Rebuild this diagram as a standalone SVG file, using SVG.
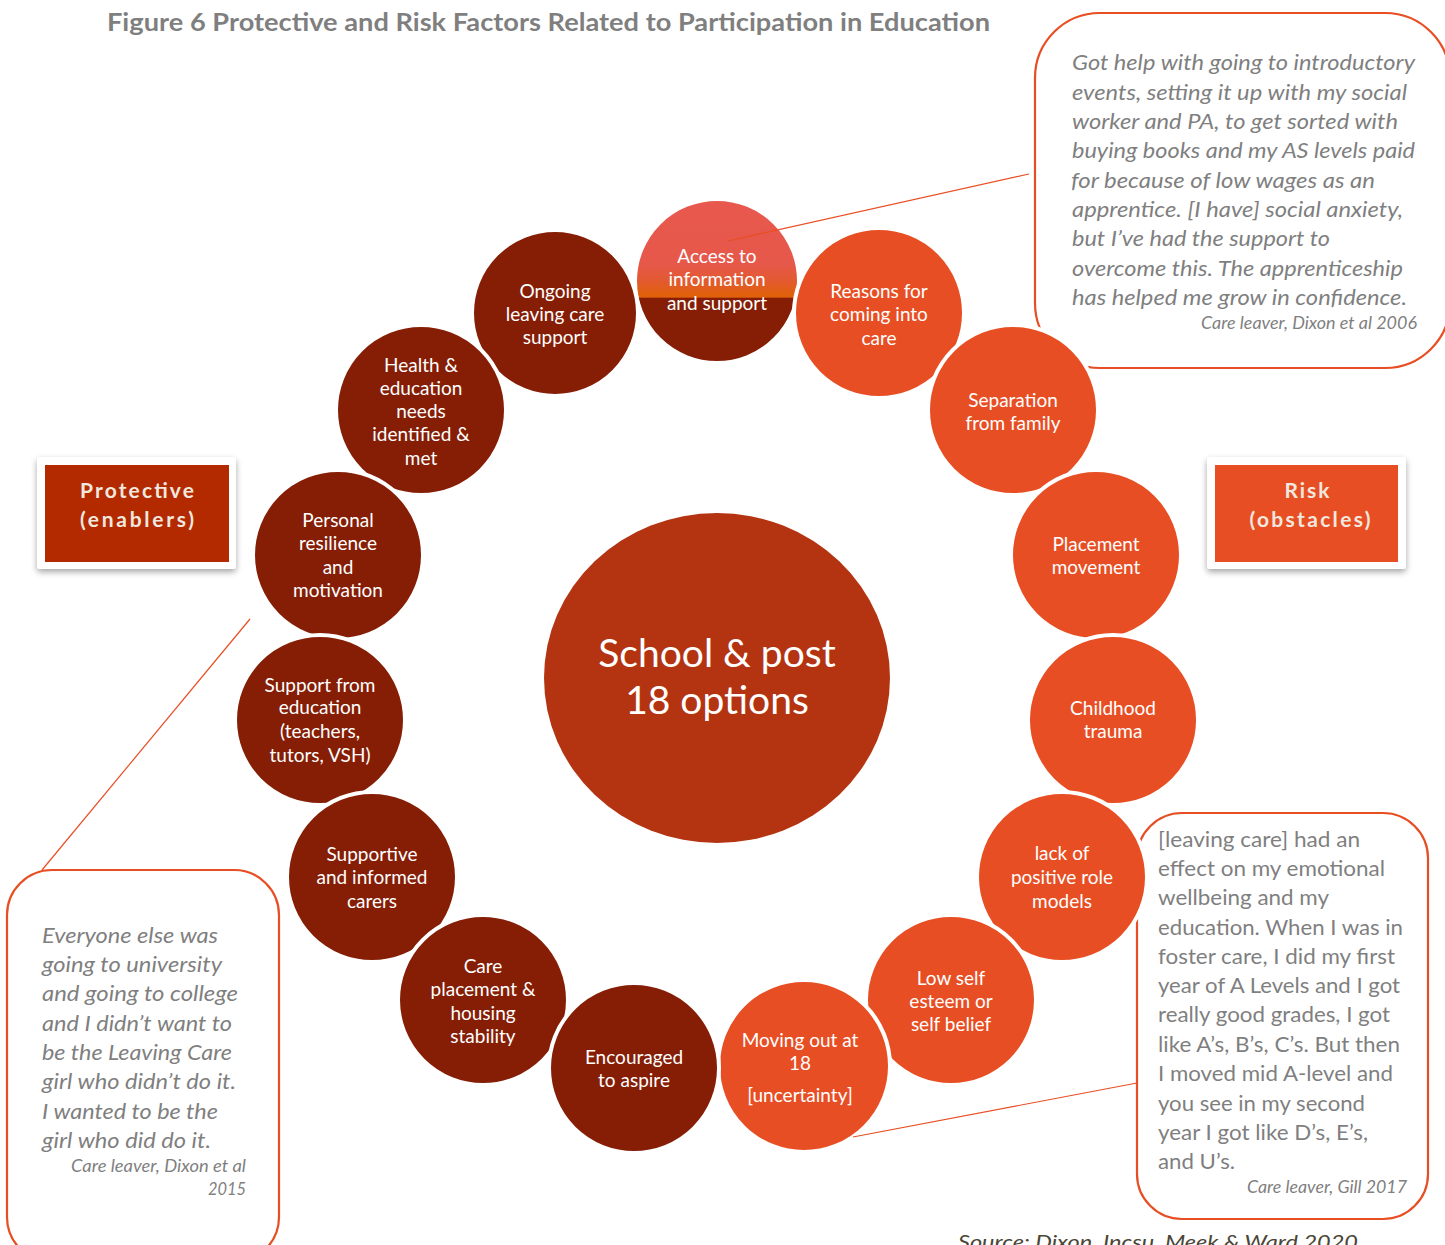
<svg xmlns="http://www.w3.org/2000/svg" width="1445" height="1245" viewBox="0 0 1445 1245">
<style>
  text { font-family: "Lato", "Liberation Sans", sans-serif; }
  .title { font-size: 25px; font-weight: bold; fill: #7F7F7F; }
  .prot { fill: #851E05; stroke: #FFFFFF; stroke-width: 4; }
  .risk { fill: #E84E23; stroke: #FFFFFF; stroke-width: 4; }
  .ct { font-size: 19px; fill: #FFFFFF; text-anchor: middle; }
  .big { font-size: 39px; fill: #FFFFFF; text-anchor: middle; }
  .callout { fill: #FFFFFF; stroke: #E84E23; stroke-width: 2.2; }
  .q { font-size: 21px; font-style: italic; fill: #7F7F7F; }
  .qn { font-size: 21px; fill: #7F7F7F; }
  .att { font-size: 17px; font-style: italic; fill: #7F7F7F; }
  .lbl { font-size: 21px; font-weight: bold; fill: #F0E8DE; text-anchor: middle; }
  .conn { stroke: #E84E23; stroke-width: 1.2; fill: none; }
  .src { font-size: 20px; font-style: italic; fill: #4A4535; }
</style>
<defs>
  <linearGradient id="accessGrad" x1="0" y1="0" x2="0" y2="1">
    <stop offset="0" stop-color="#E8584E"/>
    <stop offset="0.4" stop-color="#E6584A"/>
    <stop offset="0.5" stop-color="#E35A30"/>
    <stop offset="0.58" stop-color="#E0600C"/>
    <stop offset="0.6" stop-color="#E0600C"/>
    <stop offset="0.602" stop-color="#851E05"/>
    <stop offset="1" stop-color="#851E05"/>
  </linearGradient>
  <filter id="shadow" x="-10%" y="-10%" width="120%" height="130%">
    <feDropShadow dx="0" dy="3" stdDeviation="3" flood-color="#000000" flood-opacity="0.35"/>
  </filter>
</defs>

<rect x="0" y="0" width="1445" height="1245" fill="#FFFFFF"/>

<text class="title" x="107" y="31" textLength="883" lengthAdjust="spacingAndGlyphs">Figure 6 Protective and Risk Factors Related to Participation in Education</text>

<!-- Callouts -->
<g id="quote-top-right">
  <rect class="callout" x="1035" y="13" width="415" height="355" rx="65"/>
  <text class="q" x="1072" y="70" textLength="343" lengthAdjust="spacingAndGlyphs">Got help with going to introductory</text>
  <text class="q" x="1072" y="100" textLength="335" lengthAdjust="spacingAndGlyphs">events, setting it up with my social</text>
  <text class="q" x="1072" y="129" textLength="326" lengthAdjust="spacingAndGlyphs">worker and PA, to get sorted with</text>
  <text class="q" x="1072" y="158" textLength="343" lengthAdjust="spacingAndGlyphs">buying books and my AS levels paid</text>
  <text class="q" x="1071" y="188" textLength="304" lengthAdjust="spacingAndGlyphs">for because of low wages as an</text>
  <text class="q" x="1072" y="217" textLength="331" lengthAdjust="spacingAndGlyphs">apprentice. [I have] social anxiety,</text>
  <text class="q" x="1072" y="246" textLength="258" lengthAdjust="spacingAndGlyphs">but I’ve had the support to</text>
  <text class="q" x="1072" y="276" textLength="331" lengthAdjust="spacingAndGlyphs">overcome this. The apprenticeship</text>
  <text class="q" x="1072" y="305" textLength="335" lengthAdjust="spacingAndGlyphs">has helped me grow in confidence.</text>
  <text class="att" x="1201" y="329" textLength="216" lengthAdjust="spacingAndGlyphs">Care leaver, Dixon et al 2006</text>
</g>

<g id="quote-bottom-left">
  <rect class="callout" x="7" y="870" width="272" height="392" rx="45"/>
  <text class="q" x="42" y="943" textLength="176" lengthAdjust="spacingAndGlyphs">Everyone else was</text>
  <text class="q" x="42" y="972" textLength="180" lengthAdjust="spacingAndGlyphs">going to university</text>
  <text class="q" x="42" y="1001" textLength="196" lengthAdjust="spacingAndGlyphs">and going to college</text>
  <text class="q" x="42" y="1031" textLength="190" lengthAdjust="spacingAndGlyphs">and I didn’t want to</text>
  <text class="q" x="42" y="1060" textLength="190" lengthAdjust="spacingAndGlyphs">be the Leaving Care</text>
  <text class="q" x="42" y="1089" textLength="194" lengthAdjust="spacingAndGlyphs">girl who didn’t do it.</text>
  <text class="q" x="42" y="1119" textLength="176" lengthAdjust="spacingAndGlyphs">I wanted to be the</text>
  <text class="q" x="42" y="1148" textLength="169" lengthAdjust="spacingAndGlyphs">girl who did do it.</text>
  <text class="att" x="71" y="1172" textLength="175" lengthAdjust="spacingAndGlyphs">Care leaver, Dixon et al</text>
  <text class="att" x="208" y="1195" textLength="38" lengthAdjust="spacingAndGlyphs">2015</text>
</g>

<g id="quote-bottom-right">
  <rect class="callout" x="1137" y="813" width="291" height="406" rx="45"/>
  <text class="qn" x="1158" y="847" textLength="202" lengthAdjust="spacingAndGlyphs">[leaving care] had an</text>
  <text class="qn" x="1158" y="876" textLength="227" lengthAdjust="spacingAndGlyphs">effect on my emotional</text>
  <text class="qn" x="1158" y="905" textLength="171" lengthAdjust="spacingAndGlyphs">wellbeing and my</text>
  <text class="qn" x="1158" y="935" textLength="245" lengthAdjust="spacingAndGlyphs">education. When I was in</text>
  <text class="qn" x="1158" y="964" textLength="237" lengthAdjust="spacingAndGlyphs">foster care, I did my first</text>
  <text class="qn" x="1158" y="993" textLength="242" lengthAdjust="spacingAndGlyphs">year of A Levels and I got</text>
  <text class="qn" x="1158" y="1022" textLength="232" lengthAdjust="spacingAndGlyphs">really good grades, I got</text>
  <text class="qn" x="1158" y="1052" textLength="242" lengthAdjust="spacingAndGlyphs">like A’s, B’s, C’s. But then</text>
  <text class="qn" x="1158" y="1081" textLength="235" lengthAdjust="spacingAndGlyphs">I moved mid A-level and</text>
  <text class="qn" x="1158" y="1111" textLength="207" lengthAdjust="spacingAndGlyphs">you see in my second</text>
  <text class="qn" x="1158" y="1140" textLength="210" lengthAdjust="spacingAndGlyphs">year I got like D’s, E’s,</text>
  <text class="qn" x="1158" y="1169" textLength="77" lengthAdjust="spacingAndGlyphs">and U’s.</text>
  <text class="att" x="1247" y="1193" textLength="160" lengthAdjust="spacingAndGlyphs">Care leaver, Gill 2017</text>
</g>

<!-- Label boxes -->
<g id="label-protective">
  <rect x="37" y="457" width="199" height="112" rx="3" fill="#FFFFFF" filter="url(#shadow)"/>
  <rect x="45" y="465" width="184" height="97" fill="#B32A00"/>
  <text class="lbl" x="137" y="498" textLength="114" lengthAdjust="spacing">Protective</text>
  <text class="lbl" x="137" y="527" textLength="114" lengthAdjust="spacing">(enablers)</text>
</g>
<g id="label-risk">
  <rect x="1207" y="457" width="199" height="112" rx="3" fill="#FFFFFF" filter="url(#shadow)"/>
  <rect x="1215" y="465" width="183" height="97" fill="#E84E23"/>
  <text class="lbl" x="1307" y="498" textLength="45" lengthAdjust="spacing">Risk</text>
  <text class="lbl" x="1310" y="527" textLength="121" lengthAdjust="spacing">(obstacles)</text>
</g>

<!-- Centre -->
<g id="centre">
  <ellipse cx="717" cy="678" rx="173" ry="165" fill="#B43412"/>
  <text class="big" x="717" y="667">School &amp; post</text>
  <text class="big" x="717" y="714">18 options</text>
</g>

<!-- Nodes -->
<g id="node-access">
  <circle cx="717" cy="281" r="82" fill="url(#accessGrad)" stroke="#FFFFFF" stroke-width="4"/>
  <text class="ct" x="717" y="263">Access to</text>
  <text class="ct" x="717" y="286">information</text>
  <text class="ct" x="717" y="310">and support</text>
</g>
<g id="node-reasons">
  <circle class="risk" cx="879" cy="313" r="85"/>
  <text class="ct" x="879" y="298">Reasons for</text>
  <text class="ct" x="879" y="321">coming into</text>
  <text class="ct" x="879" y="345">care</text>
</g>
<g id="node-separation">
  <circle class="risk" cx="1013" cy="410" r="85"/>
  <text class="ct" x="1013" y="407">Separation</text>
  <text class="ct" x="1013" y="430">from family</text>
</g>
<g id="node-placement">
  <circle class="risk" cx="1096" cy="555" r="85"/>
  <text class="ct" x="1096" y="551">Placement</text>
  <text class="ct" x="1096" y="574">movement</text>
</g>
<g id="node-trauma">
  <circle class="risk" cx="1113" cy="720" r="85"/>
  <text class="ct" x="1113" y="715">Childhood</text>
  <text class="ct" x="1113" y="738">trauma</text>
</g>
<g id="node-rolemodels">
  <circle class="risk" cx="1062" cy="877" r="85"/>
  <text class="ct" x="1062" y="860">lack of</text>
  <text class="ct" x="1062" y="884">positive role</text>
  <text class="ct" x="1062" y="908">models</text>
</g>
<g id="node-esteem">
  <circle class="risk" cx="951" cy="1000" r="85"/>
  <text class="ct" x="951" y="985">Low self</text>
  <text class="ct" x="951" y="1008">esteem or</text>
  <text class="ct" x="951" y="1031">self belief</text>
</g>
<g id="node-movingout">
  <circle class="risk" cx="804" cy="1066" r="86"/>
  <text class="ct" x="800" y="1047">Moving out at</text>
  <text class="ct" x="800" y="1070">18</text>
  <text class="ct" x="800" y="1102">[uncertainty]</text>
</g>
<g id="node-ongoing">
  <circle class="prot" cx="555" cy="313" r="83"/>
  <text class="ct" x="555" y="298">Ongoing</text>
  <text class="ct" x="555" y="321">leaving care</text>
  <text class="ct" x="555" y="344">support</text>
</g>
<g id="node-health">
  <circle class="prot" cx="421" cy="410" r="85"/>
  <text class="ct" x="421" y="372">Health &amp;</text>
  <text class="ct" x="421" y="395">education</text>
  <text class="ct" x="421" y="418">needs</text>
  <text class="ct" x="421" y="441">identified &amp;</text>
  <text class="ct" x="421" y="465">met</text>
</g>
<g id="node-resilience">
  <circle class="prot" cx="338" cy="555" r="85"/>
  <text class="ct" x="338" y="527">Personal</text>
  <text class="ct" x="338" y="550">resilience</text>
  <text class="ct" x="338" y="574">and</text>
  <text class="ct" x="338" y="597">motivation</text>
</g>
<g id="node-education">
  <circle class="prot" cx="320" cy="720" r="85"/>
  <text class="ct" x="320" y="692">Support from</text>
  <text class="ct" x="320" y="714">education</text>
  <text class="ct" x="320" y="738">(teachers,</text>
  <text class="ct" x="320" y="762">tutors, VSH)</text>
</g>
<g id="node-carers">
  <circle class="prot" cx="372" cy="877" r="85"/>
  <text class="ct" x="372" y="861">Supportive</text>
  <text class="ct" x="372" y="884">and informed</text>
  <text class="ct" x="372" y="908">carers</text>
</g>
<g id="node-stability">
  <circle class="prot" cx="483" cy="1000" r="85"/>
  <text class="ct" x="483" y="973">Care</text>
  <text class="ct" x="483" y="996">placement &amp;</text>
  <text class="ct" x="483" y="1020">housing</text>
  <text class="ct" x="483" y="1043">stability</text>
</g>
<g id="node-aspire">
  <circle class="prot" cx="634" cy="1068" r="85"/>
  <text class="ct" x="634" y="1064">Encouraged</text>
  <text class="ct" x="634" y="1087">to aspire</text>
</g>

<!-- Connectors -->
<g id="connectors">
  <line class="conn" x1="728" y1="241" x2="1029" y2="174"/>
  <line class="conn" x1="250" y1="619" x2="42" y2="870"/>
  <line class="conn" x1="853" y1="1137" x2="1137" y2="1083"/>
</g>

<text class="src" x="958" y="1249" textLength="400" lengthAdjust="spacingAndGlyphs">Source: Dixon, Incsu, Meek &amp; Ward 2020</text>
</svg>
